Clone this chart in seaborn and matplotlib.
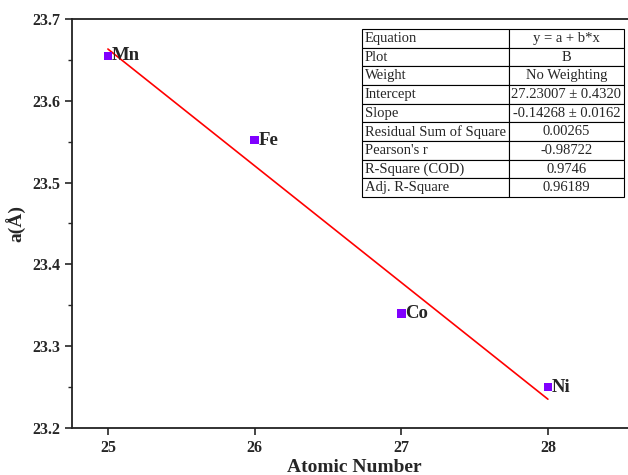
import numpy as np
import pandas as pd
import matplotlib
matplotlib.use("Agg")
import matplotlib.pyplot as plt
import seaborn as sns
from matplotlib.ticker import MultipleLocator

# данные с картинки
elements = ["Mn", "Fe", "Co", "Ni"]
atomic_number = [25, 26, 27, 28]
lattice_a = [23.655, 23.552, 23.340, 23.250]

# таблица с параметрами фита
fit_keys = ["Equation", "Plot", "Weight", "Intercept", "Slope",
            "Residual Sum of Square", "Pearson's r", "R-Square (COD)", "Adj. R-Square"]
fit_values = ["y = a + b*x", "B", "No Weighting", "27.23007 \u00b1 0.4320",
              "-0.14268 \u00b1 0.0162", "0.00265", "-0.98722", "0.9746", "0.96189"]

df = pd.DataFrame({"Z": atomic_number, "a": lattice_a, "el": elements})

sns.set_style("ticks")
plt.rcParams["font.family"] = ["Liberation Serif", "DejaVu Serif"]

fig = plt.figure(figsize=(6.28, 4.75), dpi=100)
ax = fig.add_axes([0.1146, 0.099, 0.898, 0.861])

sns.regplot(data=df, x="Z", y="a", ci=None, scatter=False,
            line_kws={"color": "red", "lw": 1.2}, ax=ax)
sns.scatterplot(data=df, x="Z", y="a", marker="s", s=38, color="#8000ff",
                edgecolor="none", ax=ax, zorder=3)

for z, a, el in zip(df["Z"], df["a"], df["el"]):
    ax.annotate(el, (z, a), xytext=(3, 0), textcoords="offset points",
                ha="left", va="center", fontsize=13.5, fontweight="bold")

ax.set_xlim(24.755, 28.6)
ax.set_ylim(23.2, 23.7)
ax.set_xticks(atomic_number)
ax.yaxis.set_major_locator(MultipleLocator(0.1))
ax.yaxis.set_minor_locator(MultipleLocator(0.05))
ax.tick_params(axis="both", which="major", direction="out", length=5, width=1.2,
               labelsize=11.5)
ax.tick_params(axis="y", which="minor", direction="out", length=3, width=1.0)
for lab in ax.get_xticklabels() + ax.get_yticklabels():
    lab.set_fontweight("bold")
for sp in ax.spines.values():
    sp.set_linewidth(1.3)
    sp.set_color("#222222")

ax.set_xlabel("Atomic Number", fontsize=14, fontweight="bold", labelpad=2)
ax.set_ylabel("a(\u00c5)", fontsize=14, fontweight="bold")

tbl = ax.table(cellText=[[k, v] for k, v in zip(fit_keys, fit_values)],
               cellLoc="center", colWidths=[0.56, 0.44],
               bbox=[362 / 628, 1 - 197 / 475, 262 / 628, 168 / 475],
               transform=fig.transFigure)
tbl.auto_set_font_size(False)
tbl.set_fontsize(10.5)
for (r, c), cell in tbl.get_celld().items():
    cell.set_linewidth(0.8)
    if c == 0:
        cell.set_text_props(ha="left")
        cell.PAD = 0.02

fig.savefig("out.png", dpi=100)
